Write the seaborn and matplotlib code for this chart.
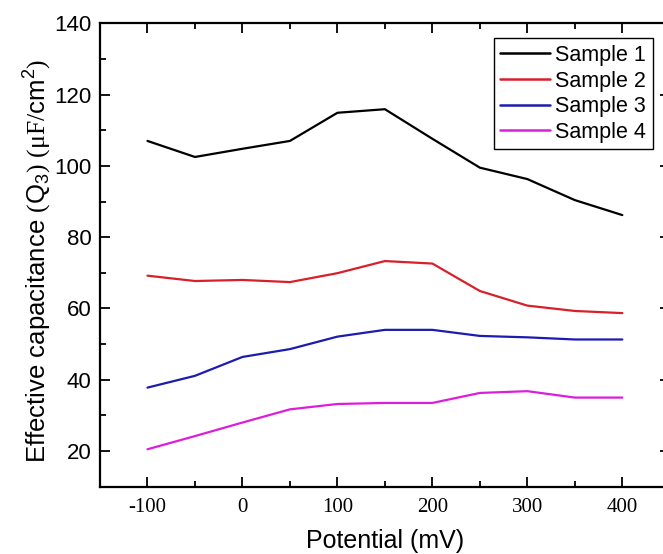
import numpy as np
import pandas as pd
import matplotlib
matplotlib.use("Agg")
import matplotlib.pyplot as plt
import seaborn as sns
from matplotlib.ticker import MultipleLocator

# values
potential = [-100, -50, 0, 50, 100, 150, 200, 250, 300, 350, 400]
sample_1 = [107.0, 102.5, 104.8, 107.0, 114.9, 115.9, 107.6, 99.5, 96.3, 90.4, 86.2]
sample_2 = [69.2, 67.7, 68.0, 67.4, 69.9, 73.3, 72.6, 64.9, 60.8, 59.3, 58.7]
sample_3 = [37.8, 41.1, 46.4, 48.6, 52.1, 54.0, 54.0, 52.3, 51.9, 51.3, 51.3]
sample_4 = [20.5, 24.2, 28.0, 31.7, 33.2, 33.5, 33.5, 36.3, 36.8, 35.0, 35.0]
labels = ["Sample 1", "Sample 2", "Sample 3", "Sample 4"]
colors = ["#000000", "#d8202a", "#1c1cb0", "#dc1edc"]

df = pd.DataFrame({"Potential": potential * 4,
                   "Q3": sample_1 + sample_2 + sample_3 + sample_4,
                   "Sample": [l for l in labels for _ in potential]})

sns.set_style("ticks")
plt.rcParams['font.family'] = ['Liberation Sans', 'DejaVu Sans']
plt.rcParams['mathtext.fontset'] = 'custom'
plt.rcParams['mathtext.rm'] = 'Liberation Serif'
plt.rcParams['mathtext.it'] = 'Liberation Serif'
plt.rcParams['mathtext.sf'] = 'Liberation Sans'
plt.rcParams['axes.unicode_minus'] = False
for k in ['text.color', 'axes.labelcolor', 'xtick.color', 'ytick.color']:
    plt.rcParams[k] = 'black'

fig = plt.figure(figsize=(6.63, 5.54), dpi=100)
ax = fig.add_axes([100 / 663, 67.3 / 554, 569.8 / 663, 463.4 / 554])

sns.lineplot(data=df, x="Potential", y="Q3", hue="Sample", palette=colors,
             linewidth=1.6, ax=ax)

ax.set_xlim(-150, 450)
ax.set_ylim(10, 140)
ax.xaxis.set_major_locator(MultipleLocator(100))
ax.xaxis.set_minor_locator(MultipleLocator(50))
ax.yaxis.set_major_locator(MultipleLocator(20))
ax.yaxis.set_minor_locator(MultipleLocator(10))
ax.set_yticks([20, 40, 60, 80, 100, 120, 140])

ax.tick_params(which="both", direction="in", top=True, right=True, width=1.3, color="black")
ax.tick_params(which="major", length=7)
ax.tick_params(which="minor", length=4)
ax.tick_params(axis="x", labelsize=15, pad=8)
ax.tick_params(axis="y", labelsize=16, pad=6)
for lab in ax.get_xticklabels():
    lab.set_fontfamily("Liberation Serif")
for s in ax.spines.values():
    s.set_linewidth(1.6)
    s.set_color("black")

ax.set_xlabel("Potential (mV)", fontsize=18, labelpad=9)
ax.set_ylabel(r"Effective capacitance $(\mathsf{Q_3})$ $(\mathrm{\mu F/}\mathsf{cm^2})$",
              fontsize=18.5)
ax.yaxis.set_label_coords(-0.08, 0.487)

leg = ax.legend(loc="upper right", bbox_to_anchor=(0.970, 0.9676),
                fontsize=15.5, frameon=True, fancybox=False, handlelength=2.3,
                handletextpad=0.25, borderpad=0.3, labelspacing=0.22, borderaxespad=0)
leg.get_frame().set_edgecolor("black")
leg.get_frame().set_linewidth(1.0)
leg.get_frame().set_alpha(1)
for line in leg.get_lines():
    line.set_linewidth(1.8)

fig.savefig("out.png", dpi=100)
